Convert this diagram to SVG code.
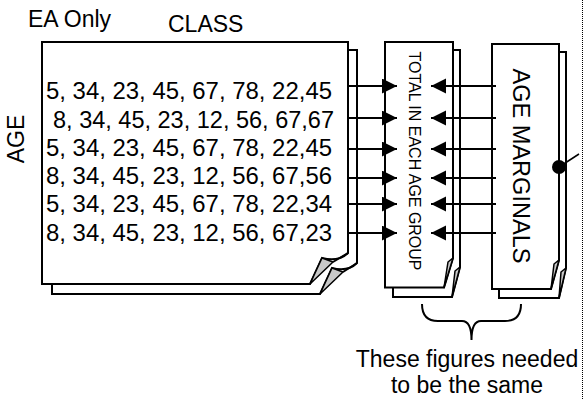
<svg xmlns="http://www.w3.org/2000/svg" width="583" height="399" viewBox="0 0 583 399">
<style>
text{font-family:"Liberation Sans",Arial,sans-serif;fill:#000}
.pg{fill:#fff;stroke:#000;stroke-width:2;stroke-linejoin:miter}
.curl{fill:#c8c8c8;stroke:#000;stroke-width:1.5;stroke-linejoin:round}
.ln{stroke:#000;stroke-width:2;fill:none}
.row{font-size:23px}
</style>
<defs>
<marker id="ah" markerUnits="userSpaceOnUse" markerWidth="16" markerHeight="16" refX="15" refY="7.5" orient="auto">
<path d="M0,0 L15,7.5 L0,15 Z" fill="#000"/>
</marker>
</defs>
<rect width="583" height="399" fill="#fff"/>

<g id="labels">
<text x="28" y="27" font-size="23">EA Only</text>
<text x="168" y="32" font-size="23">CLASS</text>
<text transform="translate(24,139) rotate(-90)" font-size="23" text-anchor="middle">AGE</text>
</g>

<g id="class-table">
<path class="pg" d="M52,50 H357 V263 Q348,272 332,268 L320,294 H52 Z"/>
<path class="curl" d="M332,268 L320,294 L343,272 Z"/>
<path class="ln" d="M343,272 L357,263" stroke-width="1.5"/>
<path class="pg" d="M42,42 H348 V253 Q339,262 322,258 L310,284 H42 Z"/>
<path class="curl" d="M322,258 L310,284 L333,262 Z"/>
<path class="ln" d="M333,262 L348,253" stroke-width="1.5"/>
<text class="row" x="46" y="99" textLength="286" lengthAdjust="spacingAndGlyphs">5, 34, 23, 45, 67, 78, 22,45</text>
<text class="row" x="53" y="128" textLength="281" lengthAdjust="spacingAndGlyphs">8, 34, 45, 23, 12, 56, 67,67</text>
<text class="row" x="46" y="156" textLength="286" lengthAdjust="spacingAndGlyphs">5, 34, 23, 45, 67, 78, 22,45</text>
<text class="row" x="46" y="184" textLength="286" lengthAdjust="spacingAndGlyphs">8, 34, 45, 23, 12, 56, 67,56</text>
<text class="row" x="46" y="212" textLength="286" lengthAdjust="spacingAndGlyphs">5, 34, 23, 45, 67, 78, 22,34</text>
<text class="row" x="46" y="241" textLength="286" lengthAdjust="spacingAndGlyphs">8, 34, 45, 23, 12, 56, 67,23</text>
</g>

<g id="total-box">
<path class="pg" d="M393,50 H460 V267 L452,297 H393 Z"/>
<path class="curl" d="M460,267 L455,271 L452,297 Z"/>
<path class="pg" d="M385,42 H453 V258 L444,287.5 H385 Z"/>
<path class="curl" d="M453,258 L448,262 L444,287.5 Z"/>
<text transform="translate(409,161) rotate(90)" font-size="16.5" text-anchor="middle" textLength="219" lengthAdjust="spacingAndGlyphs">TOTAL IN EACH AGE GROUP</text>
</g>

<g id="marginals-box">
<path class="pg" d="M499,52 H566 V268 L559,298 H499 Z"/>
<path class="curl" d="M566,268 L561,272 L559,298 Z"/>
<path class="pg" d="M492,44 H559 V260 L551,289 H492 Z"/>
<path class="curl" d="M559,260 L554,264 L551,289 Z"/>
<text transform="translate(513,166) rotate(90)" font-size="24" text-anchor="middle" textLength="195" lengthAdjust="spacingAndGlyphs">AGE MARGINALS</text>
</g>

<g id="connectors">
<line class="ln" x1="349" y1="86" x2="397" y2="86" marker-end="url(#ah)"/>
<line class="ln" x1="349" y1="118" x2="397" y2="118" marker-end="url(#ah)"/>
<line class="ln" x1="349" y1="149" x2="397" y2="149" marker-end="url(#ah)"/>
<line class="ln" x1="349" y1="178" x2="397" y2="178" marker-end="url(#ah)"/>
<line class="ln" x1="349" y1="204" x2="397" y2="204" marker-end="url(#ah)"/>
<line class="ln" x1="349" y1="233" x2="397" y2="233" marker-end="url(#ah)"/>
<line class="ln" x1="496" y1="86" x2="431" y2="86" marker-end="url(#ah)"/>
<line class="ln" x1="496" y1="118" x2="431" y2="118" marker-end="url(#ah)"/>
<line class="ln" x1="496" y1="149" x2="431" y2="149" marker-end="url(#ah)"/>
<line class="ln" x1="496" y1="178" x2="431" y2="178" marker-end="url(#ah)"/>
<line class="ln" x1="496" y1="204" x2="431" y2="204" marker-end="url(#ah)"/>
<line class="ln" x1="496" y1="233" x2="431" y2="233" marker-end="url(#ah)"/>
<circle cx="559" cy="167" r="7" fill="#000"/>
<line x1="559" y1="167" x2="579" y2="154" stroke="#000" stroke-width="1.5"/>
</g>

<g id="brace">
<path class="ln" stroke-width="1.8" d="M422,304 Q422,321 438,321 H462 Q471.5,321 471.5,340 Q471.5,321 481,321 H505 Q521,321 521,304"/>
</g>

<g id="note">
<text x="467" y="367" font-size="23" text-anchor="middle">These figures needed</text>
<text x="467" y="393" font-size="23" text-anchor="middle">to be the same</text>
</g>

<line x1="582.5" y1="0" x2="582.5" y2="399" stroke="#000" stroke-width="1" stroke-dasharray="1,1"/>
</svg>
